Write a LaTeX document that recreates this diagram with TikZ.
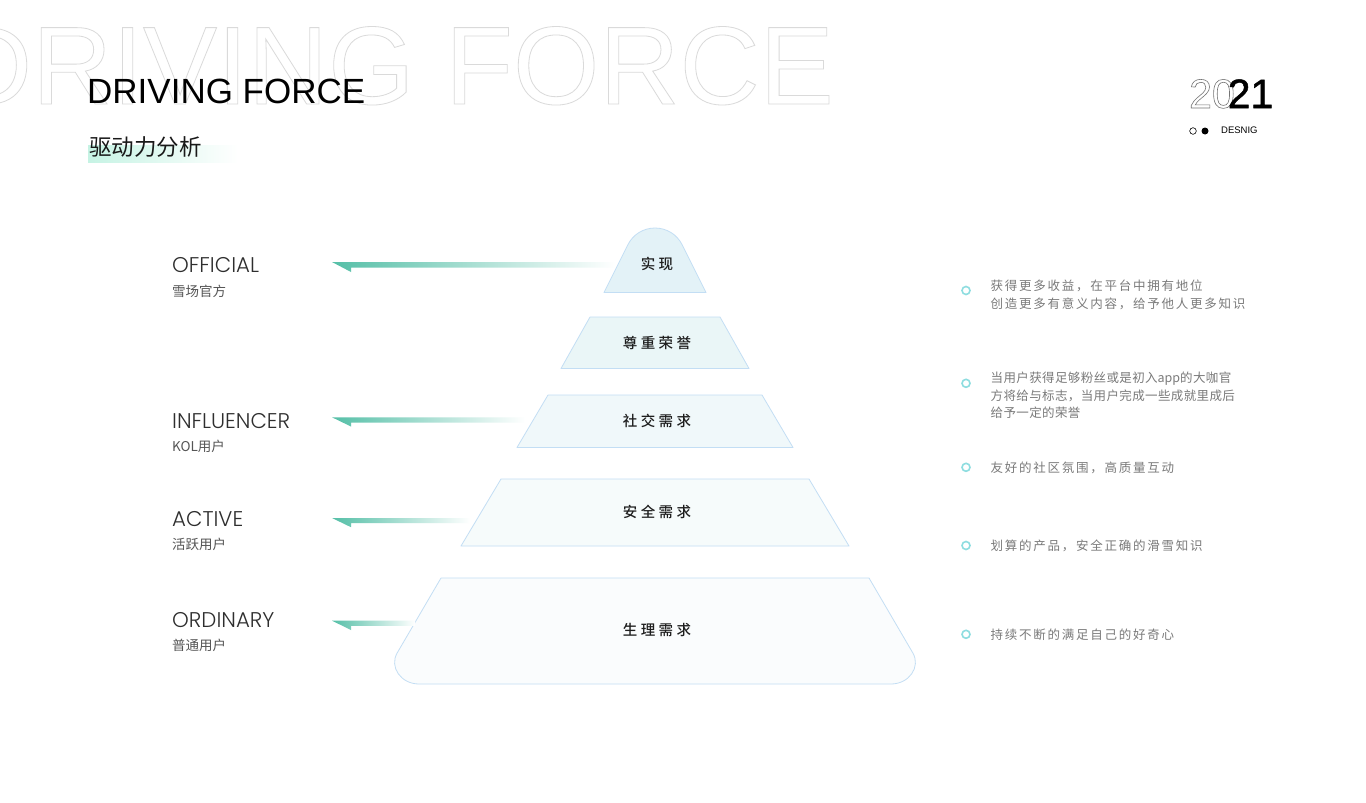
\documentclass[tikz,border=0pt]{standalone}
\usepackage{fontspec}
\setmainfont{Liberation Sans}
\newfontfamily\cjk{Noto Sans CJK SC}
\newfontfamily\cjkwide{Noto Sans CJK SC}[LetterSpace=14]
\newfontfamily\cjknarrow{Noto Sans CJK SC}[LetterSpace=3]
\IfFontExistsTF{Noto Sans CJK SC Medium}{\newfontfamily\cjklvl{Noto Sans CJK SC Medium}[LetterSpace=24]}{\newfontfamily\cjklvl{Noto Sans CJK SC}[LetterSpace=24,FakeBold=0.4]}
\IfFontExistsTF{Poppins Light}{\newfontfamily\geo{Poppins Light}}{\newfontfamily\geo{Poppins}}
\definecolor{ghostc}{HTML}{DADADA}
\definecolor{edgec}{HTML}{C3DEF4}
\definecolor{arrowteal}{HTML}{55BFA7}
\definecolor{mintc}{HTML}{C6F3E4}
\definecolor{bulletc}{HTML}{8EDDE0}
\definecolor{lvlA}{HTML}{E3F2F7}
\definecolor{lvlB}{HTML}{EAF6F7}
\definecolor{lvlC}{HTML}{F0F8FA}
\definecolor{lvlD}{HTML}{F6FBFB}
\definecolor{lvlE}{HTML}{FAFCFD}
\definecolor{lvltext}{HTML}{1E1E1E}
\definecolor{righttext}{HTML}{7A7A7A}
\definecolor{leftcn}{HTML}{555555}
\definecolor{lefteng}{HTML}{2E2E2E}
\newcommand\outlinetext[2]{\special{pdf:literal direct #1 w 1 Tr}#2\special{pdf:literal direct 0 Tr}}
\begin{document}
\begin{tikzpicture}[x=1pt,y=-1pt,
  lvl/.style={draw=edgec, line width=0.8pt, line join=round},
  lvllabel/.style={font=\cjklvl\fontsize{14.5}{16}\selectfont, text=lvltext, inner sep=0},
  arrowshade/.style={left color=arrowteal, right color=white, draw=none},
  engl/.style={font=\geo\fontsize{21.3}{23}\selectfont, text=lefteng, anchor=base west, inner sep=0},
  cnl/.style={font=\cjk\fontsize{13.5}{15}\selectfont, text=leftcn, anchor=west, inner sep=0},
  rtext/.style={font=\cjkwide\fontsize{12.5}{14}\selectfont, text=righttext, anchor=west, inner sep=0},
  rtextn/.style={rtext, font=\cjknarrow\fontsize{12.5}{14}\selectfont},
  bullet/.style={circle, draw=bulletc, line width=1.6pt, minimum size=8pt, inner sep=0}]
\useasboundingbox (0,0) rectangle (1366,803);
\fill[white] (0,0) rectangle (1366,803);

% ghost title
\begin{scope}
\clip (0,0) rectangle (1366,803);
\node[anchor=base east, inner sep=0, text=ghostc] (ghost) at (834,104)
  {\fontsize{111}{111}\selectfont\outlinetext{0.8}{DRIVING FORCE}};
\end{scope}
\node[anchor=base west, inner sep=0] (title) at (87,103.5) {\fontsize{35}{36}\selectfont DRIVING FORCE};
\shade[left color=mintc, right color=white] (88,145) rectangle (238,162);
\node[anchor=west, inner sep=0, font=\cjk\fontsize{22.5}{24}\selectfont, text=black!90] (subtitle) at (89,146.5) {驱动力分析};

% year logo
\node[anchor=base west, inner sep=0, text=black!55] (y20) at (1189,108) {\fontsize{41}{41}\selectfont\outlinetext{0.6}{20}};
\node[anchor=base west, inner sep=0] (y21) at (1227.5,108) {\fontsize{41}{41}\selectfont\outlinetext{0.5}{\special{pdf:literal direct 2 Tr}21}};
\node[circle, draw=black, line width=0.6pt, minimum size=6.6pt, inner sep=0] (dotA) at (1193,131) {};
\node[circle, fill=black, minimum size=7pt, inner sep=0] (dotB) at (1205,131) {};
\node[anchor=west, inner sep=0] (desnig) at (1221,130.5) {\fontsize{9.5}{10}\selectfont DESNIG};

% pyramid
\filldraw[lvl, fill=lvlA] (604,292.5) -- (627.9,244.7) .. controls (633,234.4) and (643.5,228) .. (655,228) .. controls (666.5,228) and (677,234.4) .. (682.1,244.7) -- (706,292.5) -- cycle;
\node[lvllabel] (l1) at (657,264) {实现};
\filldraw[lvl, fill=lvlB] (561,368.5) -- (590,317) -- (720,317) -- (749,368.5) -- cycle;
\node[lvllabel] (l2) at (657,343) {尊重荣誉};
\filldraw[lvl, fill=lvlC] (517,447.5) -- (548,395) -- (762,395) -- (793,447.5) -- cycle;
\node[lvllabel] (l3) at (657,421) {社交需求};
\filldraw[lvl, fill=lvlD] (461,546) -- (501,479) -- (809,479) -- (849,546) -- cycle;
\node[lvllabel] (l4) at (657,512) {安全需求};
\filldraw[lvl, fill=lvlE] (441,578) -- (869,578) -- (912.8,652.9) .. controls (921,667) and (909,684) .. (891,684) -- (419,684) .. controls (401,684) and (389,667) .. (397.2,652.9) -- cycle;
\node[lvllabel] (l5) at (657,630) {生理需求};

% arrows
\shade[arrowshade] (332,262) -- (615,262) -- (615,267.5) -- (351,267.5) -- (351,272) -- cycle;
\shade[arrowshade] (332,417.3) -- (525,417.3) -- (525,422.5) -- (351,422.5) -- (351,426.5) -- cycle;
\shade[arrowshade] (332,518) -- (470,518) -- (470,523.2) -- (351,523.2) -- (351,527.2) -- cycle;
\shade[arrowshade] (332,620.7) -- (415,620.7) -- (415,625.9) -- (351,625.9) -- (351,630) -- cycle;

% left labels
\node[engl] (official) at (172,272.7) {OFFICIAL};
\node[cnl] (officialcn) at (172,291.5) {雪场官方};
\node[engl] (influencer) at (172,428.3) {INFLUENCER};
\node[cnl] (influencercn) at (172,446.7) {KOL用户};
\node[engl] (active) at (172,526) {ACTIVE};
\node[cnl] (activecn) at (172,544) {活跃用户};
\node[engl] (ordinary) at (172,627.3) {ORDINARY};
\node[cnl] (ordinarycn) at (172,645) {普通用户};

% right notes
\node[bullet] (b1) at (966,290.5) {};
\node[rtext] (r1a) at (990.5,286) {获得更多收益，在平台中拥有地位};
\node[rtext] (r1b) at (990.5,303.5) {创造更多有意义内容，给予他人更多知识};
\node[bullet] (b2) at (966,383.3) {};
\node[rtextn] (r2a) at (990.5,379) {当用户获得足够粉丝或是初入{\cjk\fontsize{12.5}{14}\selectfont app}的大咖官};
\node[rtextn] (r2b) at (990.5,396) {方将给与标志，当用户完成一些成就里成后};
\node[rtextn] (r2c) at (990.5,412.5) {给予一定的荣誉};
\node[bullet] (b3) at (966,467.3) {};
\node[rtext] (r3) at (990.5,467.5) {友好的社区氛围，高质量互动};
\node[bullet] (b4) at (966,545.5) {};
\node[rtext] (r4) at (990.5,545.5) {划算的产品，安全正确的滑雪知识};
\node[bullet] (b5) at (966,634.3) {};
\node[rtext] (r5) at (990.5,634.5) {持续不断的满足自己的好奇心};
\end{tikzpicture}
\end{document}
